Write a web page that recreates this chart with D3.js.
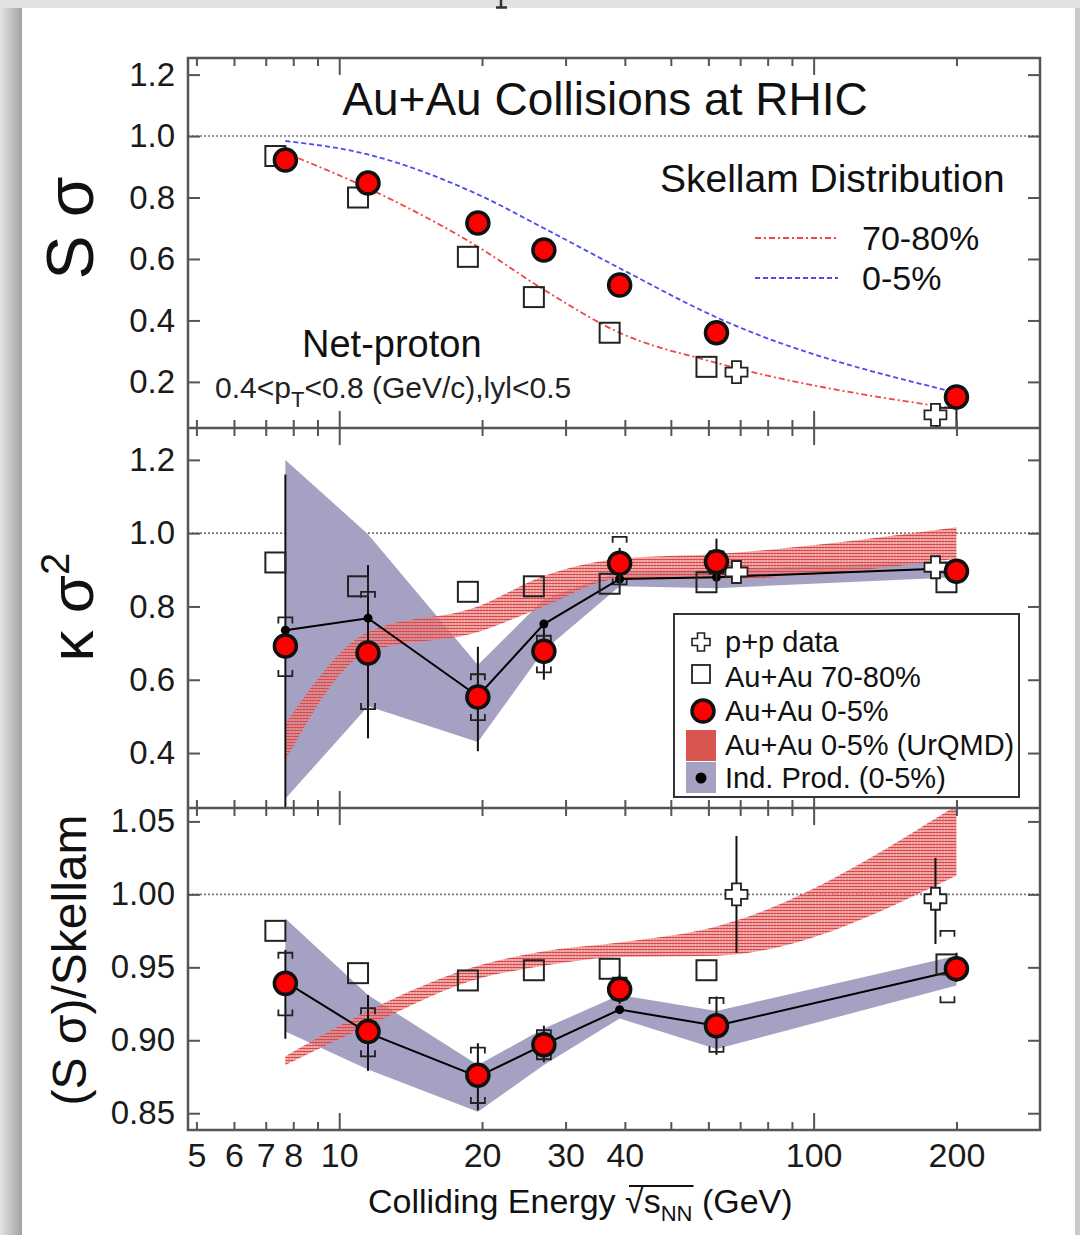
<!DOCTYPE html>
<html>
<head>
<meta charset="utf-8">
<script src="https://cdnjs.cloudflare.com/ajax/libs/d3/7.8.5/d3.min.js"></script>
<style>
body{margin:0;background:#e2e2e2;}
svg{display:block;font-family:"Liberation Sans",Arial,Helvetica,sans-serif;}
</style>
</head>
<body>
<svg id="chart" width="1080" height="1235"></svg>
<script>
// beam energies (GeV)
var energies = [7.7, 11.5, 19.6, 27, 39, 62.4, 200];
var ppEnergies = [62.4, 200];

// x axis ticks
var xMajorTicks = [10, 100];
var xMinorTicks = [5, 6, 7, 8, 9, 20, 30, 40, 50, 60, 70, 80, 90, 200];
var xTickLabels = [5, 6, 7, 8, 10, 20, 30, 40, 100, 200];

// panel 1 : S sigma
var ssTicks = [0.2, 0.4, 0.6, 0.8, 1.0, 1.2];
var ssCentral = [0.922, 0.847, 0.717, 0.629, 0.515, 0.360, 0.151];
var ssPeripheral = [0.935, 0.800, 0.607, 0.476, 0.360, 0.249, 0.083];
var ssPP = [0.232, 0.093];
var skellamCentral = [0.984, 0.940, 0.810, 0.700, 0.570, 0.410, 0.165];
var skellamPeripheral = [0.945, 0.830, 0.640, 0.500, 0.360, 0.262, 0.112];

// panel 2 : kappa sigma^2
var ksTicks = [0.4, 0.6, 0.8, 1.0, 1.2];
var ksCentral = [0.692, 0.673, 0.553, 0.678, 0.918, 0.922, 0.896];
var ksStatHi = [1.16, 0.913, 0.69, 0.74, 0.96, 0.985, 0.915];
var ksStatLo = [0.20, 0.44, 0.405, 0.60, 0.88, 0.87, 0.88];
var ksSysHi = [0.77, 0.84, 0.615, 0.72, 0.99, 0.95, 0.91];
var ksSysLo = [0.61, 0.52, 0.49, 0.62, 0.86, 0.89, 0.885];
var ksPeripheral = [0.920, 0.855, 0.840, 0.855, 0.862, 0.866, 0.866];
var ksPP = [0.894, 0.907];
var ksIndProd = [0.735, 0.768, 0.555, 0.752, 0.875, 0.880, 0.905];
var ksIndHi = [1.20, 0.997, 0.64, 0.82, 0.895, 0.90, 0.925];
var ksIndLo = [0.275, 0.528, 0.43, 0.68, 0.855, 0.85, 0.88];
var ksUrqmdHi = [0.48, 0.73, 0.80, 0.883, 0.93, 0.943, 1.016];
var ksUrqmdLo = [0.38, 0.675, 0.73, 0.80, 0.875, 0.875, 0.93];

// panel 3 : (S sigma)/Skellam
var rTicks = [0.85, 0.90, 0.95, 1.00, 1.05];
var rCentral = [0.939, 0.906, 0.876, 0.897, 0.935, 0.910, 0.949];
var rStatHi = [0.962, 0.931, 0.898, 0.910, 0.945, 0.930, 0.960];
var rStatLo = [0.901, 0.879, 0.852, 0.885, 0.925, 0.890, 0.940];
var rSysHi = [0.960, 0.922, 0.895, 0.907, 0.943, 0.929, 0.975];
var rSysLo = [0.917, 0.889, 0.857, 0.887, 0.928, 0.892, 0.926];
var rPeripheral = [0.975, 0.946, 0.941, 0.948, 0.949, 0.948, 0.952];
var rPP = [1.000, 0.997];
var rPPStatHi = [1.040, 1.025];
var rPPStatLo = [0.960, 0.966];
var rIndProd = [0.940, 0.905, 0.875, 0.897, 0.921, 0.910, 0.948];
var rIndHi = [0.9835, 0.931, 0.883, 0.908, 0.931, 0.920, 0.958];
var rIndLo = [0.906, 0.880, 0.851, 0.883, 0.915, 0.894, 0.9375];
var rUrqmdHi = [0.889, 0.920, 0.951, 0.961, 0.967, 0.978, 1.061];
var rUrqmdLo = [0.883, 0.910, 0.942, 0.951, 0.957, 0.958, 1.013];

var W = 1080, H = 1235;
var left = 188, right = 1040;
var lavender = "#a5a1c2";
var svg = d3.select("#chart");
var defs = svg.append("defs");

// page / card background
var shade = defs.append("linearGradient").attr("id", "shade");
shade.append("stop").attr("offset", "0").attr("stop-color", "#e4e4e4");
shade.append("stop").attr("offset", "1").attr("stop-color", "#a2a2a2");
svg.append("rect").attr("width", W).attr("height", H).attr("fill", "#e2e2e2");
svg.append("rect").attr("x", 0).attr("y", 8).attr("width", 22).attr("height", H).attr("fill", "url(#shade)");
svg.append("rect").attr("x", 1075).attr("y", 8).attr("width", 5).attr("height", H).attr("fill", "#cacaca");
svg.append("rect").attr("x", 22).attr("y", 8).attr("width", 1053).attr("height", H).attr("fill", "#fff");
// tail of a glyph from the caption above the card
svg.append("path").attr("d", "M501,0V7M496,7.5H507").attr("stroke", "#333").attr("stroke-width", 2.5);

// hatch used for the UrQMD band
var hatch = defs.append("pattern").attr("id", "hatch").attr("patternUnits", "userSpaceOnUse")
    .attr("width", 3).attr("height", 3);
hatch.append("rect").attr("width", 3).attr("height", 3).attr("fill", "#f2b4b4").attr("fill-opacity", 0.55);
hatch.append("path").attr("d", "M0,1.5H3").attr("stroke", "#db4444").attr("stroke-width", 1.4);
hatch.append("path").attr("d", "M1,0V3").attr("stroke", "#df5a5a").attr("stroke-width", 0.9).attr("stroke-opacity", 0.75);

var x = d3.scaleLog().domain([4.8, 300]).range([left, right]);

var panels = [
    {top: 58, bottom: 428, domain: [0.05, 1.254], ticks: ssTicks, fmt: ".1f"},
    {top: 428, bottom: 808, domain: [0.25, 1.287], ticks: ksTicks, fmt: ".1f"},
    {top: 808, bottom: 1130, domain: [0.8385, 1.0592], ticks: rTicks, fmt: ".2f"}
];

panels.forEach(function(p, i){
    p.y = d3.scaleLinear().domain(p.domain).range([p.bottom, p.top]);
    defs.append("clipPath").attr("id", "clip" + i).append("rect")
        .attr("x", left).attr("y", p.top).attr("width", right - left).attr("height", p.bottom - p.top);
    p.g = svg.append("g").attr("clip-path", "url(#clip" + i + ")");
    // dotted reference line at 1
    p.g.append("line").attr("x1", left).attr("x2", right)
        .attr("y1", p.y(1)).attr("y2", p.y(1))
        .attr("stroke", "#777").attr("stroke-width", 1.6).attr("stroke-dasharray", "2,2");
});

function plusPath(cx, cy, s, w){
    return "M" + (cx - w) + "," + (cy - s) + "H" + (cx + w) + "V" + (cy - w) + "H" + (cx + s) +
        "V" + (cy + w) + "H" + (cx + w) + "V" + (cy + s) + "H" + (cx - w) + "V" + (cy + w) +
        "H" + (cx - s) + "V" + (cy - w) + "H" + (cx - w) + "Z";
}

function band(g, y, lo, hi, fill, curve){
    var area = d3.area()
        .x(function(d, i){ return x(energies[i]); })
        .y0(function(d, i){ return y(lo[i]); })
        .y1(function(d, i){ return y(hi[i]); })
        .curve(curve || d3.curveLinear);
    g.append("path").attr("d", area(lo)).attr("fill", fill);
}

function indProd(g, y, vals){
    var line = d3.line().x(function(d, i){ return x(energies[i]); }).y(function(d){ return y(d); });
    g.append("path").attr("d", line(vals)).attr("fill", "none").attr("stroke", "#000").attr("stroke-width", 2);
    g.selectAll(null).data(vals).enter().append("circle")
        .attr("cx", function(d, i){ return x(energies[i]); })
        .attr("cy", function(d){ return y(d); })
        .attr("r", 4.5).attr("fill", "#000");
}

function statBars(g, y, xs, lo, hi, dx){
    g.selectAll(null).data(xs).enter().append("line")
        .attr("x1", function(d, i){ return x(d) + (dx ? dx[i] : 0); })
        .attr("x2", function(d, i){ return x(d) + (dx ? dx[i] : 0); })
        .attr("y1", function(d, i){ return y(lo[i]); })
        .attr("y2", function(d, i){ return y(hi[i]); })
        .attr("stroke", "#111").attr("stroke-width", 2);
}

function sysBrackets(g, y, xs, lo, hi, dx){
    g.selectAll(null).data(xs).enter().append("path")
        .attr("d", function(d, i){
            var cx = x(d) + (dx ? dx[i] : 0), a = y(hi[i]), b = y(lo[i]);
            return "M" + (cx - 7) + "," + (a + 6) + "V" + a + "H" + (cx + 7) + "V" + (a + 6) +
                "M" + (cx - 7) + "," + (b - 6) + "V" + b + "H" + (cx + 7) + "V" + (b - 6);
        })
        .attr("fill", "none").attr("stroke", "#222").attr("stroke-width", 1.8);
}

function squares(g, y, vals){
    g.selectAll(null).data(vals).enter().append("rect")
        .attr("x", function(d, i){ return x(energies[i]) - 10 - 10; })
        .attr("y", function(d){ return y(d) - 10; })
        .attr("width", 20).attr("height", 20)
        .attr("fill", "none").attr("stroke", "#222").attr("stroke-width", 2);
}

function crosses(g, y, vals){
    var shift = [20, -21];
    g.selectAll(null).data(vals).enter().append("path")
        .attr("d", function(d, i){ return plusPath(x(ppEnergies[i]) + shift[i], y(d), 11, 4.5); })
        .attr("fill", "#fff").attr("stroke", "#222").attr("stroke-width", 1.8);
}

function bigCircles(g, y, vals){
    g.selectAll(null).data(vals).enter().append("circle")
        .attr("cx", function(d, i){ return x(energies[i]); })
        .attr("cy", function(d){ return y(d); })
        .attr("r", 11).attr("fill", "#ff0000").attr("stroke", "#111").attr("stroke-width", 3.5);
}

// ---- panel 1
var p1 = panels[0];
var curveLine = d3.line().x(function(d, i){ return x(energies[i]); }).y(function(d){ return p1.y(d); })
    .curve(d3.curveMonotoneX);
p1.g.append("path").attr("d", curveLine(skellamPeripheral)).attr("fill", "none")
    .attr("stroke", "#f04545").attr("stroke-width", 1.8).attr("stroke-dasharray", "6,3,2,3");
p1.g.append("path").attr("d", curveLine(skellamCentral)).attr("fill", "none")
    .attr("stroke", "#4b4bf0").attr("stroke-width", 1.8).attr("stroke-dasharray", "5,3");
squares(p1.g, p1.y, ssPeripheral);
crosses(p1.g, p1.y, ssPP);
bigCircles(p1.g, p1.y, ssCentral);

// ---- panel 2
var p2 = panels[1];
band(p2.g, p2.y, ksIndLo, ksIndHi, lavender);
band(p2.g, p2.y, ksUrqmdLo, ksUrqmdHi, "url(#hatch)", d3.curveMonotoneX);
statBars(p2.g, p2.y, energies, ksStatLo, ksStatHi);
sysBrackets(p2.g, p2.y, energies, ksSysLo, ksSysHi);
indProd(p2.g, p2.y, ksIndProd);
squares(p2.g, p2.y, ksPeripheral);
crosses(p2.g, p2.y, ksPP);
bigCircles(p2.g, p2.y, ksCentral);

// ---- panel 3
var p3 = panels[2];
band(p3.g, p3.y, rIndLo, rIndHi, lavender);
band(p3.g, p3.y, rUrqmdLo, rUrqmdHi, "url(#hatch)", d3.curveMonotoneX);
statBars(p3.g, p3.y, ppEnergies, rPPStatLo, rPPStatHi, [20, -21]);
statBars(p3.g, p3.y, energies, rStatLo, rStatHi);
sysBrackets(p3.g, p3.y, energies, rSysLo, rSysHi, [0, 0, 0, 0, 0, 0, -9]);
indProd(p3.g, p3.y, rIndProd);
squares(p3.g, p3.y, rPeripheral);
crosses(p3.g, p3.y, rPP);
bigCircles(p3.g, p3.y, rCentral);

// ---- axes
function styleAxis(sel, size){
    sel.select(".domain").remove();
    sel.selectAll(".tick line").attr("stroke", "#555").attr("stroke-width", 2);
    sel.attr("font-family", null).attr("font-size", size);
    sel.selectAll("text").attr("fill", "#1a1a1a");
}

panels.forEach(function(p, i){
    svg.append("g").attr("transform", "translate(" + left + ",0)")
        .call(d3.axisLeft(p.y).tickValues(p.ticks).tickFormat(d3.format(p.fmt)).tickSize(-12).tickPadding(13))
        .call(styleAxis, 33);
    svg.append("g").attr("transform", "translate(" + right + ",0)")
        .call(d3.axisRight(p.y).tickValues(p.ticks).tickFormat("").tickSize(-12))
        .call(styleAxis, 33);
    [[p.top, d3.axisTop], [p.bottom, d3.axisBottom]].forEach(function(e){
        svg.append("g").attr("transform", "translate(0," + e[0] + ")")
            .call(e[1](x).tickValues(xMinorTicks).tickFormat("").tickSize(-8))
            .call(styleAxis, 33);
        svg.append("g").attr("transform", "translate(0," + e[0] + ")")
            .call(e[1](x).tickValues(xMajorTicks).tickFormat("").tickSize(-17))
            .call(styleAxis, 33);
    });
});

svg.append("g").attr("transform", "translate(0," + p3.bottom + ")")
    .call(d3.axisBottom(x).tickValues(xTickLabels).tickFormat(d3.format("d")).tickSize(0).tickPadding(13))
    .call(styleAxis, 34);

// frame
svg.append("rect").attr("x", left).attr("y", p1.top).attr("width", right - left).attr("height", p3.bottom - p1.top)
    .attr("fill", "none").attr("stroke", "#555").attr("stroke-width", 2.5);
[p1.bottom, p2.bottom].forEach(function(yy){
    svg.append("line").attr("x1", left).attr("x2", right).attr("y1", yy).attr("y2", yy)
        .attr("stroke", "#555").attr("stroke-width", 2.5);
});

// ---- panel 1 texts
svg.append("text").attr("x", 605).attr("y", 115).attr("text-anchor", "middle")
    .attr("font-size", 46).attr("fill", "#111").text("Au+Au Collisions at RHIC");
svg.append("text").attr("x", 660).attr("y", 192).attr("font-size", 39).attr("fill", "#111")
    .text("Skellam Distribution");
svg.append("line").attr("x1", 755).attr("x2", 838).attr("y1", 238).attr("y2", 238)
    .attr("stroke", "#f04545").attr("stroke-width", 1.8).attr("stroke-dasharray", "6,3,2,3");
svg.append("line").attr("x1", 755).attr("x2", 838).attr("y1", 278).attr("y2", 278)
    .attr("stroke", "#4b4bf0").attr("stroke-width", 1.8).attr("stroke-dasharray", "5,3");
svg.append("text").attr("x", 862).attr("y", 250).attr("font-size", 34).attr("fill", "#111").text("70-80%");
svg.append("text").attr("x", 862).attr("y", 290).attr("font-size", 34).attr("fill", "#111").text("0-5%");
svg.append("text").attr("x", 302).attr("y", 357).attr("font-size", 38).attr("fill", "#111").text("Net-proton");
var kin = svg.append("text").attr("x", 215).attr("y", 398).attr("font-size", 30).attr("fill", "#222");
kin.append("tspan").text("0.4<p");
kin.append("tspan").attr("font-size", 22).attr("dy", 9).text("T");
kin.append("tspan").attr("dy", -9).text("<0.8 (GeV/c),lyl<0.5");

// ---- panel 2 legend
var lg = svg.append("g");
lg.append("rect").attr("x", 674).attr("y", 614).attr("width", 345).attr("height", 183)
    .attr("fill", "#fff").attr("stroke", "#333").attr("stroke-width", 2);
lg.append("path").attr("d", plusPath(701, 642, 9, 3.5)).attr("fill", "#fff").attr("stroke", "#222").attr("stroke-width", 1.6);
lg.append("rect").attr("x", 692).attr("y", 665).attr("width", 18).attr("height", 18)
    .attr("fill", "none").attr("stroke", "#222").attr("stroke-width", 1.8);
lg.append("circle").attr("cx", 703).attr("cy", 711).attr("r", 11).attr("fill", "#ff0000")
    .attr("stroke", "#111").attr("stroke-width", 3.5);
lg.append("rect").attr("x", 686).attr("y", 730).attr("width", 30).attr("height", 31).attr("fill", "#d95550");
lg.append("rect").attr("x", 686).attr("y", 762).attr("width", 30).attr("height", 31).attr("fill", lavender);
lg.append("circle").attr("cx", 701).attr("cy", 778).attr("r", 5.5).attr("fill", "#000");
var legendLabels = ["p+p data", "Au+Au 70-80%", "Au+Au 0-5%", "Au+Au 0-5% (UrQMD)", "Ind. Prod. (0-5%)"];
var legendBase = [652, 687, 721, 755, 788];
lg.selectAll(null).data(legendLabels).enter().append("text")
    .attr("x", 725).attr("y", function(d, i){ return legendBase[i]; })
    .attr("font-size", 29).attr("fill", "#111").text(function(d){ return d; });

// ---- axis titles
svg.append("text").attr("transform", "translate(93,228) rotate(-90)").attr("text-anchor", "middle")
    .attr("font-size", 66).attr("fill", "#111").text("S σ");
var kt = svg.append("text").attr("transform", "translate(93,607) rotate(-90)").attr("text-anchor", "middle")
    .attr("font-size", 62).attr("fill", "#111");
kt.append("tspan").text("κ σ");
kt.append("tspan").attr("font-size", 40).attr("dy", -24).text("2");
svg.append("text").attr("transform", "translate(86,960) rotate(-90)").attr("text-anchor", "middle")
    .attr("font-size", 48).attr("fill", "#111").text("(S σ)/Skellam");

// x title with sqrt(s_NN)
var xt = svg.append("text").attr("x", 368).attr("y", 1213).attr("font-size", 34).attr("fill", "#111");
xt.append("tspan").text("Colliding Energy √s");
xt.append("tspan").attr("font-size", 22).attr("dy", 8).text("NN");
xt.append("tspan").attr("dy", -8).text(" (GeV)");
var node = xt.node();
var sStart = node.getStartPositionOfChar(17).x;
var sEnd = node.getEndPositionOfChar(20).x;
svg.append("line").attr("x1", sStart + 4).attr("x2", sEnd + 1).attr("y1", 1186).attr("y2", 1186)
    .attr("stroke", "#111").attr("stroke-width", 1.8);
</script>
</body>
</html>
